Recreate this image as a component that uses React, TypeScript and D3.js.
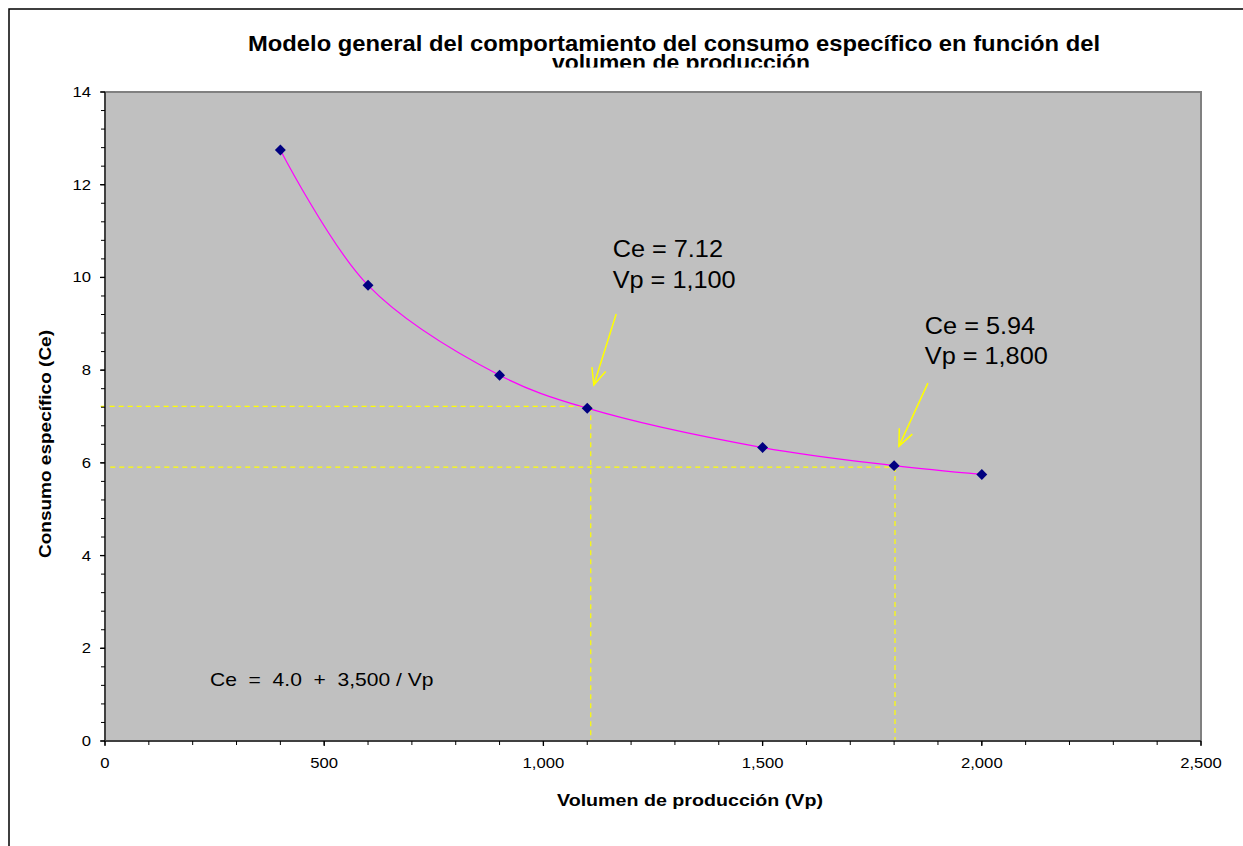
import React from "react";
import * as d3 from "d3";

// ---- data ----
const vpValues = [400, 600, 900, 1100, 1500, 1800, 2000];
const ceValues = [12.75, 9.83, 7.89, 7.18, 6.33, 5.94, 5.75];
const xTickValues = [0, 500, 1000, 1500, 2000, 2500];
const yTickValues = [0, 2, 4, 6, 8, 10, 12, 14];
const guideVp = [1108, 1802];
const guideCe = [7.22, 5.91];
const guideStartVp = [-10, 12];
const noteLines = [
  ["Ce = 7.12", "Vp = 1,100"],
  ["Ce = 5.94", "Vp = 1,800"],
];
const notePosVp = [1158, 1870];
const notePosCe = [10.44, 8.78];
const noteCeStep = [0.67, 0.65];
const arrowStartVp = [1166, 1877];
const arrowStartCe = [9.21, 7.72];
const arrowTipVp = [1115, 1811];
const arrowTipCe = [7.68, 6.36];
const formulaText = "Ce  =  4.0  +  3,500 / Vp";
const titleLines = [
  "Modelo general del comportamiento del consumo específico en función del",
  "volumen de producción",
];
const xLabel = "Volumen de producción (Vp)";
const yLabel = "Consumo específico (Ce)";

const W = 1243;
const H = 846;
const PL = 105, PR = 1201, PT = 92, PB = 741;
const FONT = "'Liberation Sans', Arial, Helvetica, sans-serif";
const SX = 1.15;

function T(props: any) {
  const { x, y, sx = SX, anchor = "start", size = 15, bold = false, rotate = 0, children, textLength } = props;
  return (
    <text
      transform={`translate(${x},${y}) rotate(${rotate}) scale(${sx},1)`}
      textAnchor={anchor}
      fontFamily={FONT}
      fontSize={size}
      fontWeight={bold ? "bold" : "normal"}
      fill="#000"
      style={{ whiteSpace: "pre" }}
      textLength={textLength}
      lengthAdjust={textLength ? "spacingAndGlyphs" : undefined}
    >
      {children}
    </text>
  );
}

export default function App() {
  const x = d3.scaleLinear().domain([0, 2500]).range([PL, PR]);
  const y = d3.scaleLinear().domain([0, 14]).range([PB, PT]);

  const pts = vpValues.map((v, i) => [x(v), y(ceValues[i])] as [number, number]);
  const linePath = d3.line().curve(d3.curveCatmullRom.alpha(0.5))(pts) || "";
  const diamond = d3.symbol(d3.symbolSquare, 60)() || "";

  const xMinor = d3.range(0, 2501, 100);
  const yMinor = d3.range(0, 14.001, 0.4);

  const arrowHead = (tx: number, ty: number, sx: number, sy: number) => {
    const ang = Math.atan2(sy - ty, sx - tx);
    const L = 18;
    const a1 = ang - 0.41, a2 = ang + 0.41;
    return `M${tx + L * Math.cos(a1)},${ty + L * Math.sin(a1)}L${tx},${ty}L${tx + L * Math.cos(a2)},${ty + L * Math.sin(a2)}`;
  };

  return (
    <svg width={W} height={H} style={{ position: "absolute", left: 0, top: 0, background: "#fff" }}>
      <defs>
        <clipPath id="t2clip">
          <rect x={0} y={0} width={W} height={67.5} />
        </clipPath>
      </defs>
      <rect x={0} y={0} width={W} height={H} fill="#fff" />
      {/* outer frame */}
      <rect x={9} y={9} width={W + 20} height={H + 20} fill="none" stroke="#000" strokeWidth={1.5} />

      {/* title */}
      <T x={674} y={51} size={21.5} bold sx={1} anchor="middle" textLength={852}>{titleLines[0]}</T>
      <g clipPath="url(#t2clip)">
        <T x={681} y={70} size={21.5} bold sx={1} anchor="middle" textLength={258}>{titleLines[1]}</T>
      </g>

      {/* plot area */}
      <rect x={PL} y={PT} width={PR - PL} height={PB - PT} fill="#C0C0C0" />
      <path d={`M${PL},${PT}H${PR}V${PB}`} fill="none" stroke="#808080" strokeWidth={2} />

      {/* guides */}
      {guideVp.map((gv, i) => (
        <g key={"g" + i} stroke="#FFFF00" strokeWidth={1.2} strokeDasharray="5,4" fill="none">
          <path d={`M${x(guideStartVp[i])},${y(guideCe[i])}H${x(gv)}`} />
          <path d={`M${x(gv)},${y(guideCe[i])}V${PB}`} />
        </g>
      ))}

      {/* curve */}
      <path d={linePath} fill="none" stroke="#FF00FF" strokeWidth={1.2} />
      {pts.map((p, i) => (
        <path key={"m" + i} d={diamond} transform={`translate(${p[0]},${p[1]}) rotate(45)`} fill="#000080" />
      ))}

      {/* arrows */}
      {arrowStartVp.map((av, i) => {
        const sx0 = x(av), sy0 = y(arrowStartCe[i]);
        const tx = x(arrowTipVp[i]), ty = y(arrowTipCe[i]);
        return (
          <g key={"a" + i} stroke="#FFFF00" strokeWidth={1.5} fill="none">
            <path d={`M${sx0},${sy0}L${tx},${ty}`} />
            <path d={arrowHead(tx, ty, sx0, sy0)} />
          </g>
        );
      })}

      {/* notes */}
      {noteLines.map((ls, i) => (
        <g key={"n" + i}>
          {ls.map((s, j) => (
            <T key={j} x={x(notePosVp[i])} y={y(notePosCe[i] - j * noteCeStep[i])} size={23} sx={1.1}>{s}</T>
          ))}
        </g>
      ))}

      {/* formula */}
      <T x={210} y={686} size={18} sx={1.17}>{formulaText}</T>

      {/* axes */}
      <path d={`M${PL},${PT}V${PB}H${PR}`} fill="none" stroke="#404040" strokeWidth={2} />
      {yMinor.map((v, i) => (
        <line key={"ym" + i} x1={PL - 4} x2={PL} y1={y(v)} y2={y(v)} stroke="#000" strokeWidth={1} />
      ))}
      {yTickValues.map((v) => (
        <g key={"yt" + v}>
          <line x1={PL - 5} x2={PL} y1={y(v)} y2={y(v)} stroke="#000" strokeWidth={1.3} />
          <T x={91} y={y(v) + 5} size={14.5} anchor="end">{d3.format(",")(v)}</T>
        </g>
      ))}
      {xMinor.map((v, i) => (
        <line key={"xm" + i} x1={x(v)} x2={x(v)} y1={PB} y2={PB + 4} stroke="#000" strokeWidth={1} />
      ))}
      {xTickValues.map((v) => (
        <g key={"xt" + v}>
          <line x1={x(v)} x2={x(v)} y1={PB} y2={PB + 5} stroke="#000" strokeWidth={1.3} />
          <T x={x(v)} y={768} size={14.5} anchor="middle">{d3.format(",")(v)}</T>
        </g>
      ))}

      {/* axis titles */}
      <T x={690} y={806} size={16.5} bold sx={1} anchor="middle" textLength={266}>{xLabel}</T>
      <T x={51} y={444} size={16} bold sx={1} anchor="middle" rotate={-90} textLength={228}>{yLabel}</T>
    </svg>
  );
}
